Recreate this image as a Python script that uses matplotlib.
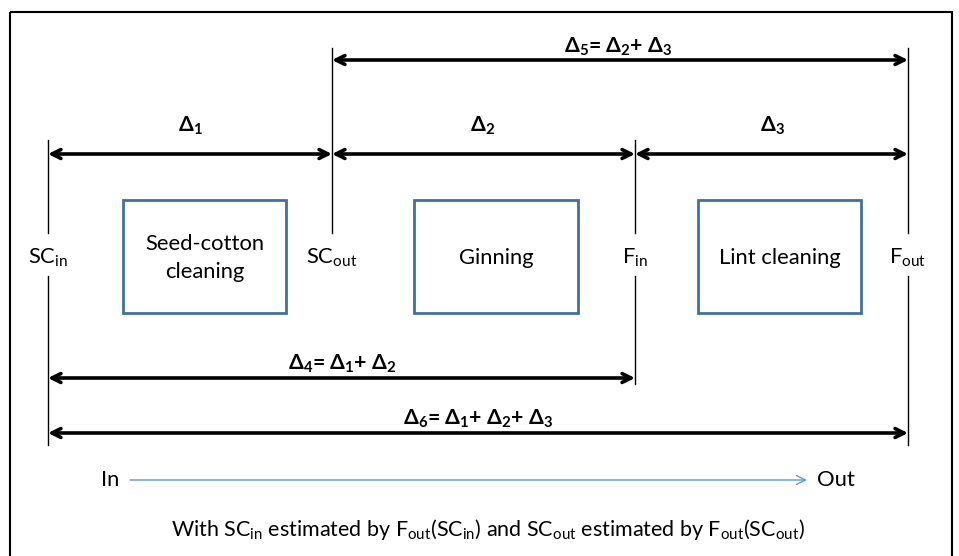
import matplotlib.pyplot as plt
from matplotlib.patches import Rectangle

plt.rcParams['font.family'] = ['Lato', 'DejaVu Sans']
plt.rcParams['mathtext.fontset'] = 'custom'
plt.rcParams['mathtext.rm'] = 'Lato'
plt.rcParams['mathtext.it'] = 'Lato'
plt.rcParams['mathtext.bf'] = 'Lato:bold'

# measurement points along the line (pixel positions in the drawing)
node_labels = [r'$\mathregular{SC_{in}}$', r'$\mathregular{SC_{out}}$',
               r'$\mathregular{F_{in}}$', r'$\mathregular{F_{out}}$']
node_x = [48, 332, 635, 908]
node_top = [140, 48, 140, 48]
node_bottom = [445, None, 384, 445]

# machines between the points
machines = ['Seed-cotton\ncleaning', 'Ginning', 'Lint cleaning']
machine_x = [(123, 286), (414, 578), (698, 861)]

# spans: (from node, to node, y, label)
spans = [
    (0, 1, 154, r'$\mathbf{\Delta_1}$'),
    (1, 2, 154, r'$\mathbf{\Delta_2}$'),
    (2, 3, 154, r'$\mathbf{\Delta_3}$'),
    (1, 3, 60, r'$\mathbf{\Delta_5}$= $\mathbf{\Delta_2}$+ $\mathbf{\Delta_3}$'),
    (0, 2, 378, r'$\mathbf{\Delta_4}$= $\mathbf{\Delta_1}$+ $\mathbf{\Delta_2}$'),
    (0, 3, 433, r'$\mathbf{\Delta_6}$= $\mathbf{\Delta_1}$+ $\mathbf{\Delta_2}$+ $\mathbf{\Delta_3}$'),
]
span_label_x = [190, 483, 772, 618, 342, 478]
span_label_y = [126, 126, 126, 47, 364, 419]

caption = (r'With $\mathregular{SC_{in}}$ estimated by $\mathregular{F_{out}(SC_{in})}$'
           r' and $\mathregular{SC_{out}}$ estimated by $\mathregular{F_{out}(SC_{out})}$')

box_color = '#41719C'
flow_color = '#5B9BD5'
fs = 15.8

fig = plt.figure(figsize=(9.59, 5.56), dpi=100)
ax = fig.add_axes([0, 0, 1, 1])
ax.set_xlim(0, 959)
ax.set_ylim(556, 0)
ax.axis('off')

# outer frame
ax.add_patch(Rectangle((10, 12), 942, 560, fill=False, ec='black', lw=1.5))

for label, x, top, bottom in zip(node_labels, node_x, node_top, node_bottom):
    ax.plot([x, x], [top, 233], color='black', lw=1)
    if bottom is not None:
        ax.plot([x, x], [276, bottom], color='black', lw=1)
    ax.text(x, 258, label, ha='center', va='center', fontsize=fs)

for name, (x0, x1) in zip(machines, machine_x):
    ax.add_patch(Rectangle((x0, 200), x1 - x0, 113, fill=False, ec=box_color, lw=2))
    ax.text((x0 + x1) / 2, 258, name, ha='center', va='center', fontsize=fs,
            linespacing=1.45)

for (a, b, y, label), lx, ly in zip(spans, span_label_x, span_label_y):
    ax.annotate('', xy=(node_x[b], y), xytext=(node_x[a], y),
                arrowprops=dict(arrowstyle='<->', color='black', lw=2.6,
                                shrinkA=0, shrinkB=0, mutation_scale=16))
    ax.text(lx, ly, label, ha='center', va='center', fontsize=fs - 0.5,
            fontweight='bold')

# flow direction
ax.annotate('', xy=(807, 480), xytext=(130, 480),
            arrowprops=dict(arrowstyle='->', color=flow_color, lw=1,
                            shrinkA=0, shrinkB=0, mutation_scale=16))
ax.text(110, 480, 'In', ha='center', va='center', fontsize=fs)
ax.text(836, 480, 'Out', ha='center', va='center', fontsize=fs)

ax.text(488, 529, caption, ha='center', va='center', fontsize=fs - 0.3)

fig.savefig('out.png', dpi=100)
